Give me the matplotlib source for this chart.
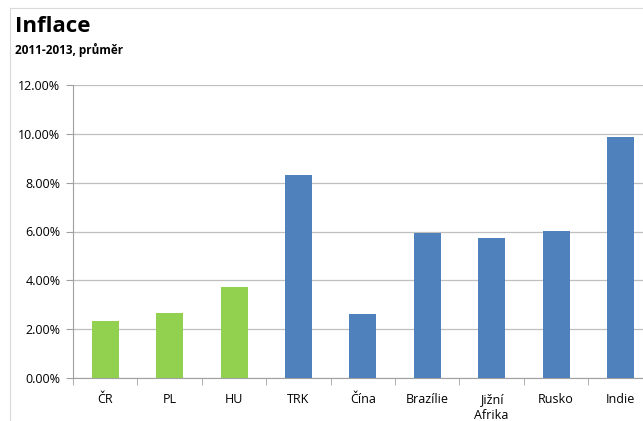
import matplotlib.pyplot as plt
from matplotlib.ticker import FuncFormatter, FixedLocator

plt.rcParams['font.family'] = ['Open Sans', 'DejaVu Sans']

countries = ["ČR", "PL", "HU", "TRK", "Čína", "Brazílie", "Jižní\nAfrika", "Rusko", "Indie"]
inflation = [2.35, 2.66, 3.73, 8.32, 2.62, 5.92, 5.73, 6.01, 9.85]
bar_colors = ["#92D050"] * 3 + ["#4F81BD"] * 6

fig = plt.figure(figsize=(6.43, 4.21), dpi=100)
ax = fig.add_axes([73 / 643, 1 - 378 / 421, 579.7 / 643, 293 / 421])

ax.bar(range(len(countries)), inflation, width=0.42, color=bar_colors, zorder=3)

ax.set_xlim(-0.5, len(countries) - 0.5)
ax.set_ylim(0, 12)
ax.set_yticks([0, 2, 4, 6, 8, 10, 12])
ax.yaxis.set_major_formatter(FuncFormatter(lambda v, p: "%.2f%%" % v))
ax.yaxis.grid(True, color="#BFBFBF", linewidth=0.9, zorder=0)

ax.set_xticks(range(len(countries)))
ax.set_xticklabels(countries, fontsize=9, linespacing=1.25)
ax.xaxis.set_minor_locator(FixedLocator([i - 0.5 for i in range(len(countries) + 1)]))
ax.tick_params(axis="x", which="major", length=0, pad=11)
ax.tick_params(axis="x", which="minor", length=5, color="#A0A0A0", direction="out")
ax.tick_params(axis="y", length=5, color="#A0A0A0", labelsize=9, pad=4)

for s in ["top", "right"]:
    ax.spines[s].set_visible(False)
ax.spines["left"].set_color("#A0A0A0")
ax.spines["bottom"].set_color("#A0A0A0")

# frame of the chart area
fig.add_artist(plt.Line2D([10 / 643, 1], [1 - 8 / 421] * 2, color="#D9D9D9", linewidth=0.8))
fig.add_artist(plt.Line2D([10 / 643] * 2, [0, 1 - 8 / 421], color="#D9D9D9", linewidth=0.8))

fig.text(15 / 643, 1 - 26 / 421, "Inflace", fontsize=16, fontweight="bold", va="center")
fig.text(15 / 643, 1 - 50 / 421, "2011-2013, průměr", fontsize=8.5, fontweight="bold", va="center")

fig.savefig("out.png", dpi=100)
